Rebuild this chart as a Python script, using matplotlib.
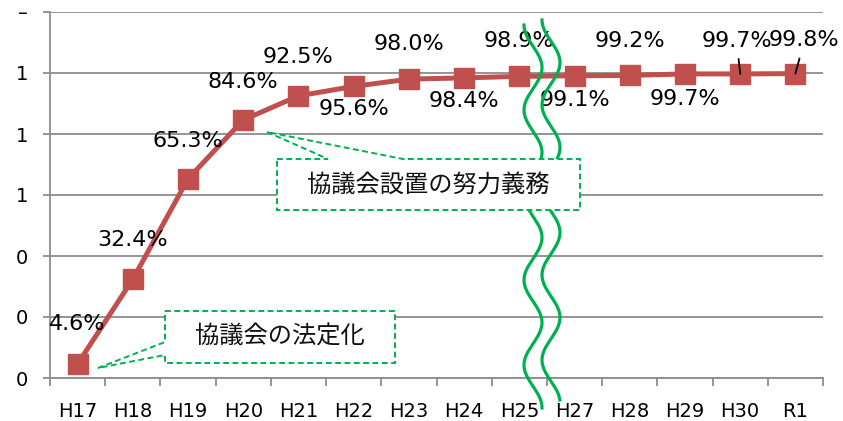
import numpy as np
import matplotlib
matplotlib.use("Agg")
import matplotlib.pyplot as plt
from matplotlib.lines import Line2D
from matplotlib.patches import Polygon
from matplotlib.ticker import FixedLocator, FixedFormatter

plt.rcParams["font.family"] = ["DejaVu Sans", "Noto Sans CJK JP"]

categories = ["H17", "H18", "H19", "H20", "H21", "H22", "H23", "H24", "H25",
              "H27", "H28", "H29", "H30", "R1"]
rates = [0.046, 0.324, 0.653, 0.846, 0.925, 0.956, 0.980, 0.984, 0.989,
         0.991, 0.992, 0.997, 0.997, 0.998]
rate_labels = ["4.6%", "32.4%", "65.3%", "84.6%", "92.5%", "95.6%", "98.0%",
               "98.4%", "98.9%", "99.1%", "99.2%", "99.7%", "99.7%", "99.8%"]
y_ticks = [0, 0.2, 0.4, 0.6, 0.8, 1.0, 1.2]
y_tick_labels = ["0", "0", "0", "1", "1", "1", "–"]
callout_texts = ["協議会の法定化", "協議会設置の努力義務"]

RED = "#C0504D"
GREEN = "#00B050"
GRID = "#8C8C8C"

W, H = 843, 421
fig = plt.figure(figsize=(W / 100, H / 100), dpi=100)
ax = fig.add_axes([50 / W, (H - 378) / H, 773 / W, 366 / H])


def px(xp, yp):
    # figure pixel (from top-left) -> figure fraction
    return xp / W, 1 - yp / H


x = np.arange(len(categories))
ax.plot(x, rates, color=RED, lw=3.6, marker="s", markersize=14.5,
        markerfacecolor=RED, markeredgecolor=RED, zorder=3, clip_on=False)

ax.set_xlim(-0.5, len(categories) - 0.5)
ax.set_ylim(0, 1.2)

# gridlines / axes
ax.yaxis.set_major_locator(FixedLocator(y_ticks))
ax.yaxis.set_major_formatter(FixedFormatter(y_tick_labels))
ax.grid(axis="y", color=GRID, lw=1.3)
ax.set_axisbelow(True)
for side in ["top", "right"]:
    ax.spines[side].set_visible(False)
for side in ["left", "bottom"]:
    ax.spines[side].set_color(GRID)
    ax.spines[side].set_linewidth(1.3)
ax.tick_params(axis="y", length=5, width=1.3, color=GRID, pad=11, labelsize=14)

ax.set_xticks(x)
ax.set_xticklabels(categories)
ax.set_xticks(np.arange(len(categories) + 1) - 0.5, minor=True)
ax.tick_params(axis="x", which="major", length=0, pad=17, labelsize=14)
ax.tick_params(axis="x", which="minor", length=6, width=1.3, color=GRID)

# data labels
offsets = [(0, 29), (0, 28), (0, 27.5), (0, 27), (0, 28), (0, -16.5), (0, 25.5),
           (0, -17), (0, 25.5), (0, -17.5), (0, 25), (0, -18), (-2.5, 24), (6.5, 24)]
for i, (lab, off) in enumerate(zip(rate_labels, offsets)):
    kw = {}
    if i >= 12:
        kw["arrowprops"] = dict(arrowstyle="-", color="black", lw=1.3,
                                shrinkA=4, shrinkB=0)
    ax.annotate(lab, (x[i], rates[i]), xytext=off, textcoords="offset points",
                ha="center", va="center", fontsize=16, color="black",
                zorder=4, **kw)

# wavy break marks
ys = np.linspace(25, 408, 300)
wave1 = 533 - 9 * np.cos(2 * np.pi * (ys - 25) / 85)
ys2 = np.linspace(20, 400, 300)
wave2 = 551 - 9 * np.cos(2 * np.pi * (ys2 - 20) / 85)
for wx, wy in [(wave1, ys), (wave2, ys2)]:
    fx, fy = px(wx, wy)
    fig.add_artist(Line2D(fx, fy, color=GREEN, lw=2.3, zorder=5))

# callouts
box1 = [(165, 311), (395, 311), (395, 363), (165, 363), (165, 355),
        (98, 368), (165, 342)]
box2 = [(277, 159), (328, 159), (267, 132), (403, 159), (580, 159),
        (580, 210), (277, 210)]
for pts, txt, center in [(box1, callout_texts[0], (280, 337)),
                         (box2, callout_texts[1], (428, 185))]:
    fig.add_artist(Polygon([px(a, b) for a, b in pts], closed=True,
                           facecolor="white", edgecolor=GREEN, lw=1.4,
                           linestyle=(0, (3, 1.8)), zorder=6,
                           transform=fig.transFigure))
    cx, cy = px(*center)
    fig.text(cx, cy, txt, ha="center", va="center", fontsize=17.5,
             family=["Noto Sans CJK JP"], color="#111111", zorder=7)

fig.savefig("out.png", dpi=100)
